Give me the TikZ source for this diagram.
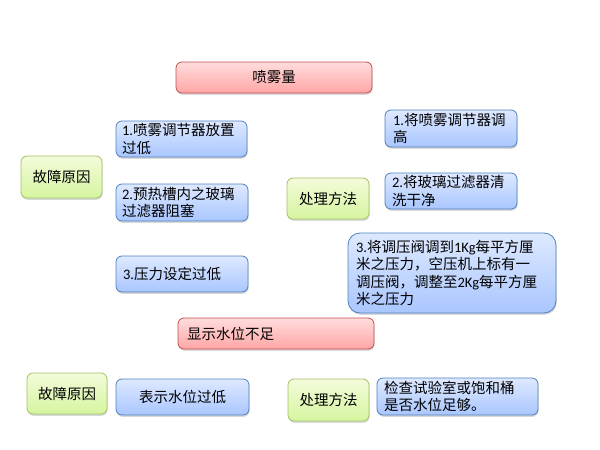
\documentclass[tikz,border=0pt]{standalone}
\usepackage{fontspec}
\setmainfont{Noto Sans CJK SC}
\newfontfamily\lat{Carlito}
\usetikzlibrary{shadows}
\definecolor{rtop}{HTML}{FFDCDC}
\definecolor{rbot}{HTML}{FFA6A6}
\definecolor{rbd}{HTML}{C0504D}
\definecolor{btop}{HTML}{DEE9FF}
\definecolor{bbot}{HTML}{A9C6FF}
\definecolor{bbd}{HTML}{4F81BD}
\definecolor{gtop}{HTML}{F3FBDA}
\definecolor{gbot}{HTML}{D6F5A0}
\definecolor{gbd}{HTML}{A3C263}
\tikzset{
  base/.style={rounded corners=6pt, line width=0.8pt, inner xsep=0pt, inner ysep=0pt,
    font=\fontsize{14.5}{17.5}\selectfont,
    drop shadow={shadow xshift=0.6pt, shadow yshift=-1.8pt, opacity=0.25, fill=black!60}},
  redbox/.style={base, draw=rbd, top color=rtop, bottom color=rbot},
  bluebox/.style={base, draw=bbd, top color=btop, bottom color=bbot},
  greenbox/.style={base, draw=gbd, top color=gtop, bottom color=gbot},
  dims/.style 2 args={minimum width=#1pt, minimum height=#2pt},
  lt/.style 2 args={text width=#1pt-2*#2pt, inner xsep=#2pt, align=left}
}
\begin{document}
\begin{tikzpicture}[x=1pt,y=-1pt]
\useasboundingbox (0,0) rectangle (600,450);
% 喷雾量
\node[redbox, dims={196}{31}] (spray) at (274,77.5) {喷雾量};
\node[greenbox, dims={81}{42}] (cause1) at (61.5,177) {故障原因};
\node[bluebox, dims={131}{36}, lt={131}{6}] (c1) at (181.5,139) {{\lat 1.}喷雾调节器放置\\过低};
\node[bluebox, dims={132}{37}, lt={132}{6}] (c2) at (182,202.5) {{\lat 2.}预热槽内之玻璃\\过滤器阻塞};
\node[bluebox, dims={132}{36}, lt={132}{7}] (c3) at (182,274) {{\lat 3.}压力设定过低};
\node[greenbox, dims={82}{41}] (m1) at (328,198.5) {处理方法};
\node[bluebox, dims={132}{37}, lt={132}{8}] (s1) at (451,128.5) {{\lat 1.}将喷雾调节器调\\高};
\node[bluebox, dims={132}{36}, lt={132}{7}] (s2) at (451,191) {{\lat 2.}将玻璃过滤器清\\洗干净};
\node[bluebox, rounded corners=12pt, dims={208}{80}, lt={208}{8}] (s3) at (452,273)
  {{\lat 3.}将调压阀调到{\lat 1Kg}每平方厘\\米之压力，空压机上标有一\\调压阀，调整至{\lat 2Kg}每平方厘\\米之压力};
% 显示水位不足
\node[redbox, dims={196}{31}, lt={196}{9}] (water) at (276,333.5) {显示水位不足};
\node[greenbox, dims={80}{41}] (cause2) at (67,393.5) {故障原因};
\node[bluebox, dims={133}{36}] (w1) at (182.5,397) {表示水位过低};
\node[greenbox, dims={81}{42}] (m2) at (328.5,400) {处理方法};
\node[bluebox, dims={161}{37}, lt={161}{7}] (w2) at (457.5,396.5) {检查试验室或饱和桶\\是否水位足够。};
\end{tikzpicture}
\end{document}
